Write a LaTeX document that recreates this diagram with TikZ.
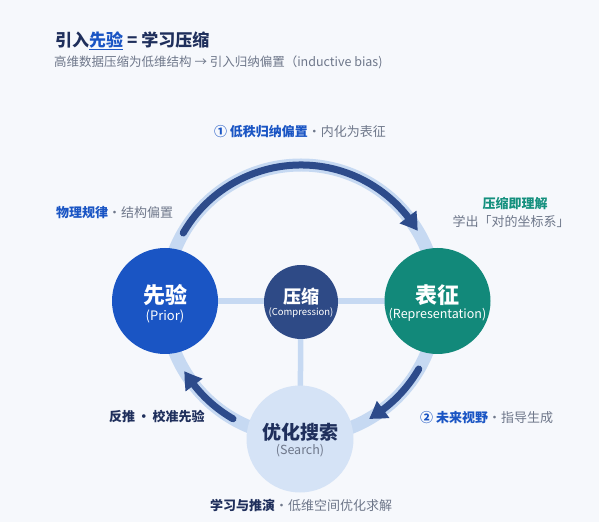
\documentclass[tikz,border=0pt]{standalone}
\usepackage{fontspec}
\setmainfont{Noto Sans CJK SC}
\usetikzlibrary{arrows.meta,bending}
\definecolor{bgc}{HTML}{F6F8FC}
\definecolor{navy}{HTML}{1F2F5C}
\definecolor{blueA}{HTML}{1A55C4}
\definecolor{grayA}{HTML}{6E778A}
\definecolor{tealA}{HTML}{12897A}
\definecolor{tealT}{HTML}{14907E}
\definecolor{compc}{HTML}{2E4A86}
\definecolor{searchc}{HTML}{D5E3F6}
\definecolor{ringc}{HTML}{C6D9F2}
\definecolor{arrowc}{HTML}{2D4B8B}
\pgfdeclarelayer{back}
\pgfdeclarelayer{mid}
\pgfsetlayers{back,mid,main}
\tikzset{
  bignode/.style={circle, inner sep=0pt},
  intext/.style={inner sep=0pt, text=white},
  flowarrow/.style={arrowc, line width=7pt, line cap=round, -{Triangle[length=17pt,width=20pt,bend]}},
  band/.style={ringc, line width=13pt},
  spoke/.style={ringc, line width=5.5pt},
  lbl/.style={inner sep=0pt, font=\fontsize{13}{15}\selectfont}
}
\begin{document}
\begin{tikzpicture}[x=1pt,y=1pt]
\begin{pgfonlayer}{back}
\fill[bgc] (0,0) rectangle (599,522);
\end{pgfonlayer}
\useasboundingbox (0,0) rectangle (599,522);
\coordinate (O) at (301,221);

% nodes
\node[bignode, fill=blueA, minimum size=106pt] (prior) at (165,221) {};
\node[bignode, fill=tealA, minimum size=106pt] (repr) at (437.5,221) {};
\node[bignode, fill=compc, minimum size=74pt] (comp) at (301,220) {};
\node[bignode, fill=searchc, minimum size=107pt] (search) at (300,83) {};

\node[intext, font=\fontsize{22}{24}\selectfont\bfseries] (priorT) at ([yshift=6]prior.center) {先验};
\node[intext, font=\fontsize{13}{15}\selectfont] (priorS) at ([yshift=-15]prior.center) {(Prior)};
\node[intext, font=\fontsize{22}{24}\selectfont\bfseries] (reprT) at ([yshift=6]repr.center) {表征};
\node[intext, font=\fontsize{12.5}{15}\selectfont] (reprS) at ([yshift=-14]repr.center) {(Representation)};
\node[intext, font=\fontsize{18}{20}\selectfont\bfseries] (compT) at ([yshift=5]comp.center) {压缩};
\node[intext, font=\fontsize{9.5}{11}\selectfont] (compS) at ([yshift=-11]comp.center) {(Compression)};
\node[intext, text=navy, font=\fontsize{19}{22}\selectfont\bfseries] (searchT) at ([yshift=7]search.center) {优化搜索};
\node[intext, text=grayA, font=\fontsize{12.5}{15}\selectfont] (searchS) at ([yshift=-12]search.center) {(Search)};

\begin{pgfonlayer}{mid}
\draw[band] (O) circle (136);
\draw[spoke] (prior.center) -- (repr.center);
\draw[spoke] (comp.center) -- (search.center);
\end{pgfonlayer}

% arrows on the ring
\draw[flowarrow] (O) ++(150:136) arc[start angle=150, end angle=31, radius=136];
\draw[flowarrow] (O) ++(-30:136) arc[start angle=-30, end angle=-60, radius=136];
\draw[flowarrow] (O) ++(240:136) arc[start angle=240, end angle=211, radius=136];

% title
\node[inner sep=0pt, anchor=west, font=\fontsize{17}{20}\selectfont\bfseries] (title) at (55,481)
  {{\color{navy}引入}{\color{blueA}\underline{先验}}{\color{navy}\ = 学习压缩}};
\node[inner sep=0pt, anchor=west, font=\fontsize{12.5}{15}\selectfont, text=grayA] (sub) at (54,459.5)
  {高维数据压缩为低维结构 → 引入归纳偏置（inductive bias)};

% labels
\node[lbl] (l1) at (300,390) {{\bfseries\color{blueA}① 低秩归纳偏置}{\color{grayA}·内化为表征}};
\node[lbl, anchor=west] (l2) at (56,309) {{\bfseries\color{blueA}物理规律}{\color{grayA}·结构偏置}};
\node[lbl] (l3) at (515,318) {\bfseries\color{tealT}压缩即理解};
\node[lbl] (l4) at (511,300) {\color{grayA}学出「对的坐标系」};
\node[lbl, anchor=west] (l5) at (109,105) {\bfseries\color{navy}反推\,·\,校准先验};
\node[lbl, anchor=west] (l6) at (420,104) {{\bfseries\color{blueA}② 未来视野}{\color{grayA}·指导生成}};
\node[lbl] (l7) at (301,16) {{\bfseries\color{navy}学习与推演}{\color{grayA}·低维空间优化求解}};
\end{tikzpicture}
\end{document}
